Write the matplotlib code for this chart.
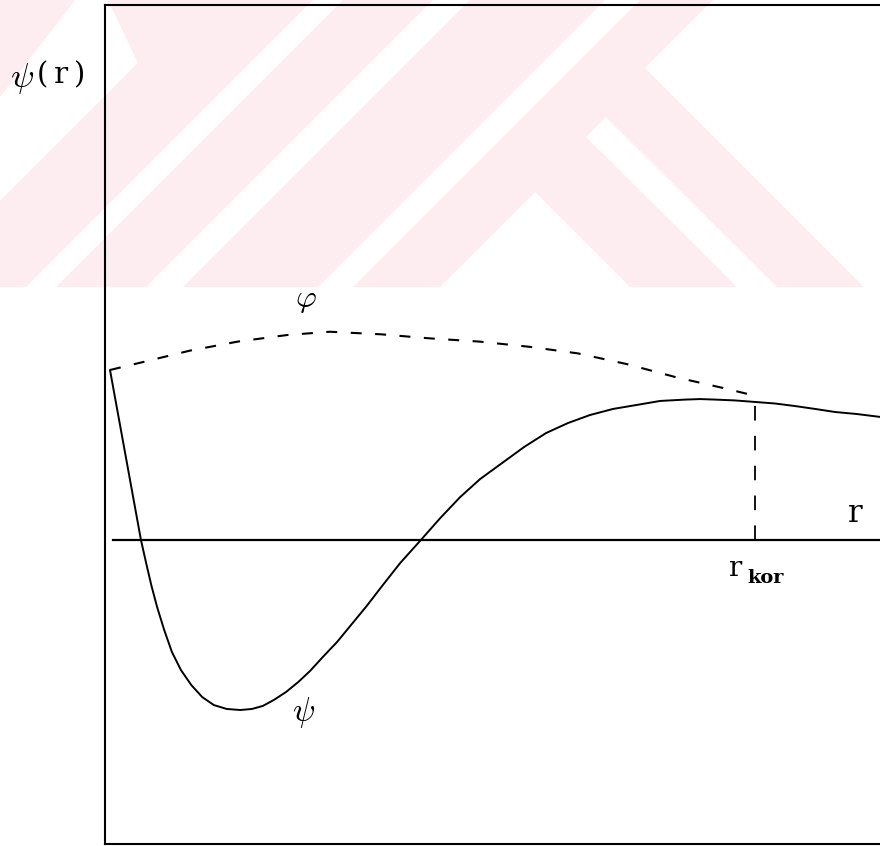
import matplotlib
matplotlib.use("Agg")
import matplotlib.pyplot as plt
from matplotlib.patches import Polygon

plt.rcParams["mathtext.fontset"] = "cm"
plt.rcParams["lines.scale_dashes"] = False

# radial coordinate, in units of the correlation radius r_kor
r_psi = [0.0, 0.024, 0.048, 0.056, 0.064,
         0.073, 0.084, 0.096, 0.110, 0.126, 0.143, 0.161, 0.181, 0.202, 0.220,
         0.237, 0.254, 0.273, 0.292, 0.310, 0.330, 0.352, 0.375, 0.398, 0.423,
         0.450, 0.482, 0.512, 0.543, 0.574, 0.608, 0.642, 0.676, 0.710, 0.744,
         0.780, 0.816, 0.853, 0.892, 0.915, 0.938, 0.969, 1.0, 1.031, 1.062,
         1.093, 1.124, 1.158, 1.194]
# correlated wave function psi(r)
psi = [1.0, 0.50, 0.0, -0.135, -0.265,
       -0.394, -0.529, -0.659, -0.765, -0.853, -0.924, -0.971, -0.994, -1.0, -0.994,
       -0.976, -0.941, -0.894, -0.835, -0.771, -0.688, -0.600, -0.494, -0.388, -0.265,
       -0.135, 0.0, 0.129, 0.253, 0.359, 0.453, 0.547, 0.629, 0.688, 0.735,
       0.771, 0.794, 0.818, 0.826, 0.829, 0.826, 0.821, 0.812, 0.803, 0.788,
       0.771, 0.753, 0.741, 0.724]

# uncorrelated wave function phi(r), up to r_kor
r_phi = [0.0, 0.047, 0.124, 0.198, 0.275, 0.341, 0.420, 0.496, 0.573, 0.649,
         0.725, 0.801, 0.878, 0.953, 0.995]
phi = [1.0, 1.043, 1.114, 1.167, 1.206, 1.225, 1.21, 1.186, 1.167, 1.137,
       1.098, 1.035, 0.957, 0.892, 0.853]

r_kor = 1.0
psi_kor = psi[r_psi.index(r_kor)]

W, H = 880, 846
fig = plt.figure(figsize=(W / 100, H / 100), dpi=100)
fig.patch.set_facecolor("white")

# faint background emblem (pixel coordinates, y downwards)
bg = fig.add_axes([0, 0, 1, 1], zorder=0)
bg.set_xlim(0, W)
bg.set_ylim(H, 0)
bg.axis("off")
pink = "#fdecf0"
band_y = 287
bg.add_patch(Polygon([(0, 0), (713, 0), (645, 68), (864, band_y), (0, band_y)],
                     closed=True, fc=pink, ec="none"))
white_shapes = [
    [(75, 0), (108, 0), (138, 63), (0, 201), (0, 97)],
    [(313, 0), (343, 0), (343 - band_y, band_y), (313 - band_y, band_y)],
    [(433, 0), (470, 0), (470 - band_y, band_y), (433 - band_y, band_y)],
    [(605, 0), (640, 0), (640 - band_y, band_y), (605 - band_y, band_y)],
    [(535, 192), (440, band_y), (630, band_y)],
    [(586, 137), (606, 117), (777, band_y), (737, band_y)],
]
for shp in white_shapes:
    bg.add_patch(Polygon(shp, closed=True, fc="white", ec="none"))

# main plot box
x0 = -5 / 645
x1 = 770 / 645
y0 = -(844 - 540) / 170
y1 = (540 - 5) / 170
ax = fig.add_axes([105 / W, (H - 844) / H, 1 - 105 / W, (844 - 5) / H], zorder=1)
ax.set_facecolor("none")
ax.set_xlim(x0, x1)
ax.set_ylim(y0, y1)
ax.set_xticks([])
ax.set_yticks([])
ax.spines["right"].set_visible(False)
for s in ("left", "top", "bottom"):
    ax.spines[s].set_linewidth(1.5)
    ax.spines[s].set_color("black")

# r axis
ax.axhline(0, xmin=8 / 775, xmax=1, color="black", lw=1.6)

# curves
ax.plot(r_psi, psi, color="black", lw=1.4, solid_joinstyle="round",
        solid_capstyle="round")
ax.plot(r_phi, phi, color="black", lw=1.5, dashes=(7.9, 9.7))
ax.plot([r_kor, r_kor], [0, psi_kor], color="black", lw=1.3, dashes=(10.5, 11))

# labels
fig.text(22 / W, 1 - 78 / H, r"$\psi$", fontsize=25, ha="center", va="center")
fig.text(61 / W, 1 - 75 / H, "(\u2009r\u2009)", family="DejaVu Serif", fontsize=21,
         ha="center", va="center")
ax.text(0.303, (540 - 299) / 170, r"$\varphi$", fontsize=23, ha="center", va="center")
ax.text(0.300, (540 - 712) / 170, r"$\psi$", fontsize=24, ha="center", va="center")
ax.text(1.155, (540 - 514) / 170, "r", family="DejaVu Serif", fontsize=22,
        ha="center", va="center")
ax.text(0.968, (540 - 568) / 170, "r", family="DejaVu Serif", fontsize=20,
        ha="center", va="center")
ax.text(0.988, (540 - 578) / 170, "kor", family="DejaVu Serif", fontweight="bold",
        fontsize=14, ha="left", va="center")

fig.savefig("out.png", dpi=100, facecolor="white")
